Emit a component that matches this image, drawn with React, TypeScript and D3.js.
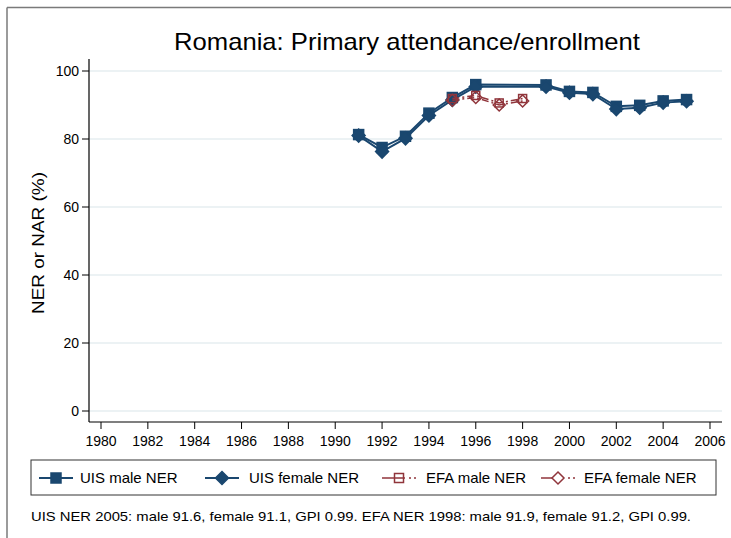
import React from "react";
import * as d3 from "d3";

const uisYears = [1991, 1992, 1993, 1994, 1995, 1996, 1999, 2000, 2001, 2002, 2003, 2004, 2005];
const uisMale = [81.3, 77.5, 80.8, 87.6, 92.2, 96.0, 95.9, 94.0, 93.7, 89.6, 89.9, 91.2, 91.6];
const uisFemale = [81.0, 76.3, 80.2, 86.9, 91.5, 95.4, 95.4, 93.6, 93.2, 88.8, 89.2, 90.7, 91.1];

const efaYears = [1995, 1996, 1997, 1998];
const efaMale = [91.9, 92.8, 90.6, 91.9];
const efaFemale = [91.4, 92.2, 90.0, 91.2];

const xTicks = d3.range(1980, 2007, 2);
const yTicks = [0, 20, 40, 60, 80, 100];

const title = "Romania: Primary attendance/enrollment";
const yLabel = "NER or NAR (%)";
const note =
  "UIS NER 2005: male 91.6, female 91.1, GPI 0.99. EFA NER 1998: male 91.9, female 91.2, GPI 0.99.";

const BLUE = "#1a476f";
const RED = "#90353b";
const FONT = "'Liberation Sans', Arial, sans-serif";

type Pt = [number, number];

function Square({ x, y, s, fill, stroke }: { x: number; y: number; s: number; fill: string; stroke: string }) {
  return <rect x={x - s / 2} y={y - s / 2} width={s} height={s} fill={fill} stroke={stroke} strokeWidth={1.5} />;
}

function Diamond({ x, y, s, fill, stroke }: { x: number; y: number; s: number; fill: string; stroke: string }) {
  const r = s / 2;
  return (
    <path
      d={`M${x},${y - r}L${x + r},${y}L${x},${y + r}L${x - r},${y}Z`}
      fill={fill}
      stroke={stroke}
      strokeWidth={1.5}
    />
  );
}

export default function App() {
  const width = 731,
    height = 538;
  const x = d3.scaleLinear().domain([1980, 2006]).range([101, 710]);
  const y = d3.scaleLinear().domain([0, 100]).range([411, 71]);
  const line = d3
    .line<Pt>()
    .x((d) => x(d[0]))
    .y((d) => y(d[1]));

  const um: Pt[] = uisYears.map((yr, i) => [yr, uisMale[i]]);
  const uf: Pt[] = uisYears.map((yr, i) => [yr, uisFemale[i]]);
  const em: Pt[] = efaYears.map((yr, i) => [yr, efaMale[i]]);
  const ef: Pt[] = efaYears.map((yr, i) => [yr, efaFemale[i]]);

  const axisX = 89,
    axisY = 422,
    plotRight = 722,
    plotTop = 59;
  const dash = "7 3 2 3";

  const legend = [
    { label: "UIS male NER", color: BLUE, marker: "sq", filled: true, x0: 39, tx: 80 },
    { label: "UIS female NER", color: BLUE, marker: "di", filled: true, x0: 205, tx: 249 },
    { label: "EFA male NER", color: RED, marker: "sq", filled: false, x0: 382, tx: 426 },
    { label: "EFA female NER", color: RED, marker: "di", filled: false, x0: 541, tx: 584 },
  ];

  return (
    <svg
      width={width}
      height={height}
      style={{ position: "absolute", left: 0, top: 0, background: "#fff" }}
      fontFamily={FONT}
    >
      <rect x={0} y={0} width={width} height={height} fill="#fff" />
      {/* outer frame, only left and top edges fall inside the picture */}
      <line x1={7} y1={7.5} x2={width} y2={7.5} stroke="#7a7a7a" strokeWidth={1.5} />
      <line x1={7} y1={7.5} x2={7} y2={height} stroke="#7a7a7a" strokeWidth={1.5} />

      <text x={174} y={50} fontSize={24} textLength={466} lengthAdjust="spacingAndGlyphs" fill="#000">
        {title}
      </text>

      {/* gridlines */}
      {yTicks.map((t) => (
        <line key={"g" + t} x1={axisX} x2={plotRight} y1={y(t)} y2={y(t)} stroke="#e6eef0" strokeWidth={1.5} />
      ))}

      {/* axes */}
      <line x1={axisX} x2={axisX} y1={plotTop} y2={axisY} stroke="#000" strokeWidth={1.2} />
      <line x1={axisX} x2={plotRight} y1={axisY} y2={axisY} stroke="#000" strokeWidth={1.2} />
      {yTicks.map((t) => (
        <g key={"y" + t}>
          <line x1={axisX - 7} x2={axisX} y1={y(t)} y2={y(t)} stroke="#000" strokeWidth={1} />
          <text x={axisX - 10} y={y(t) + 5} textAnchor="end" fontSize={14}>
            {t}
          </text>
        </g>
      ))}
      {xTicks.map((t) => (
        <g key={"x" + t}>
          <line x1={x(t)} x2={x(t)} y1={axisY} y2={axisY + 7} stroke="#000" strokeWidth={1} />
          <text x={x(t)} y={axisY + 24} textAnchor="middle" fontSize={14}>
            {t}
          </text>
        </g>
      ))}
      <text
        transform={`translate(44,${(y(0) + y(100)) / 2 + 2}) rotate(-90)`}
        textAnchor="middle"
        fontSize={17}
        textLength={142}
        lengthAdjust="spacingAndGlyphs"
      >
        {yLabel}
      </text>

      {/* series */}
      <path d={line(um) ?? ""} fill="none" stroke={BLUE} strokeWidth={2} />
      <path d={line(uf) ?? ""} fill="none" stroke={BLUE} strokeWidth={2} />
      {um.map((d, i) => (
        <Square key={"um" + i} x={x(d[0])} y={y(d[1])} s={10} fill={BLUE} stroke={BLUE} />
      ))}
      {uf.map((d, i) => (
        <Diamond key={"uf" + i} x={x(d[0])} y={y(d[1])} s={13} fill={BLUE} stroke={BLUE} />
      ))}
      <path d={line(em) ?? ""} fill="none" stroke={RED} strokeWidth={1.5} strokeDasharray={dash} />
      <path d={line(ef) ?? ""} fill="none" stroke={RED} strokeWidth={1.5} strokeDasharray={dash} />
      {em.map((d, i) => (
        <Square key={"em" + i} x={x(d[0])} y={y(d[1])} s={8} fill="none" stroke={RED} />
      ))}
      {ef.map((d, i) => (
        <Diamond key={"ef" + i} x={x(d[0])} y={y(d[1])} s={12} fill="none" stroke={RED} />
      ))}

      {/* legend */}
      <rect x={31} y={460} width={685} height={35} fill="#fff" stroke="#333" strokeWidth={1} />
      {legend.map((l) => {
        const cy = 478;
        const mx = l.x0 + 17;
        return (
          <g key={l.label}>
            {l.filled ? (
              <line x1={l.x0} x2={l.x0 + 34} y1={cy} y2={cy} stroke={l.color} strokeWidth={2} />
            ) : (
              <>
                <line x1={l.x0} x2={mx} y1={cy} y2={cy} stroke={l.color} strokeWidth={1.5} />
                <line x1={mx} x2={l.x0 + 34} y1={cy} y2={cy} stroke={l.color} strokeWidth={1.5} strokeDasharray="6 4 2 3" />
              </>
            )}
            {l.marker === "sq" ? (
              <Square x={mx} y={cy} s={l.filled ? 10 : 9} fill={l.filled ? l.color : "none"} stroke={l.color} />
            ) : (
              <Diamond x={mx} y={cy} s={l.filled ? 13 : 12} fill={l.filled ? l.color : "#fff"} stroke={l.color} />
            )}
            <text x={l.tx} y={cy + 5} fontSize={15}>
              {l.label}
            </text>
          </g>
        );
      })}

      <text x={31} y={521} fontSize={13.5} textLength={660} lengthAdjust="spacingAndGlyphs">
        {note}
      </text>
    </svg>
  );
}
